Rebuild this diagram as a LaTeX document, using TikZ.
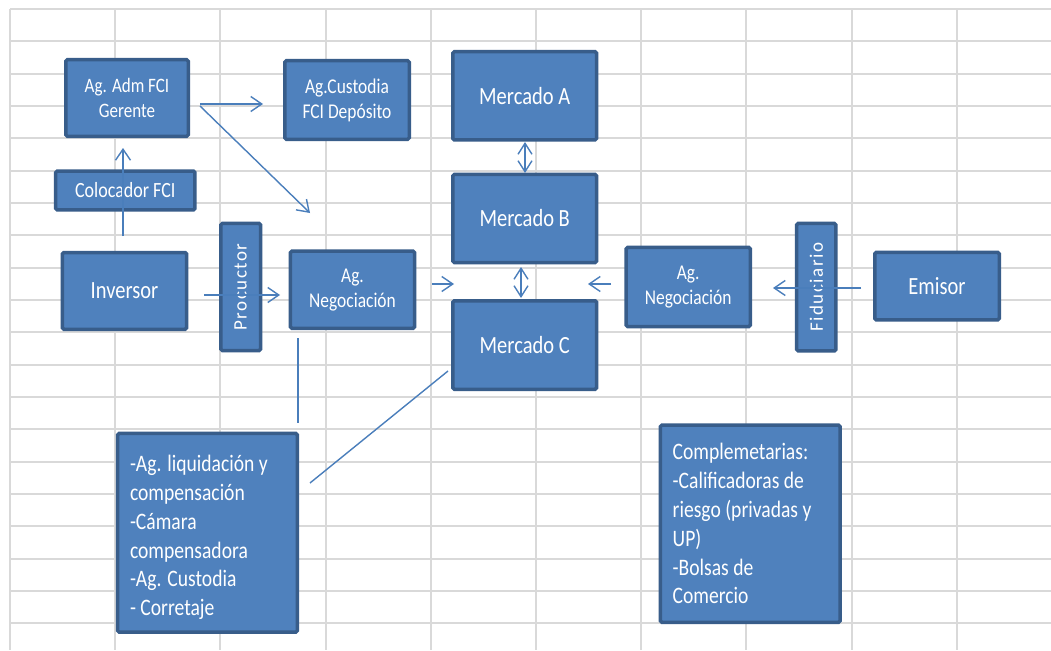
\documentclass[tikz,border=0pt]{standalone}
\usepackage{fontspec}
\setmainfont{Carlito}[FakeStretch=0.83]
\newfontfamily\vfont{Carlito}[LetterSpace=8]
\usetikzlibrary{arrows.meta}
\definecolor{gridc}{HTML}{D9D9D9}
\definecolor{boxfill}{HTML}{4F81BD}
\definecolor{boxline}{HTML}{385D8A}
\definecolor{linkblue}{HTML}{4A7EBB}
\begin{document}
\begin{tikzpicture}[x=1pt,y=-1pt,
  box/.style={draw=boxline, fill=boxfill, line width=3.5pt, rounded corners=1.5pt, inner sep=0pt, text=white, align=center},
  link/.style={draw=linkblue, line width=1.4pt},
  arr/.style={link, -{Straight Barb[length=11pt,width=15pt]}},
  darr/.style={link, {Straight Barb[length=11pt,width=14pt]}-{Straight Barb[length=11pt,width=14pt]}},
  bigtxt/.style={font=\fontsize{24.7}{30}\selectfont},
  midtxt/.style={font=\fontsize{21}{25}\selectfont},
  listtxt/.style={font=\fontsize{23.6}{28.8}\selectfont, align=flush left, text width=155pt, inner xsep=12.3pt},
  verttxt/.style={font=\vfont\fontsize{19}{24}\selectfont, rotate=90},
  gridline/.style={draw=gridc, line width=2pt}
]
\useasboundingbox (0,0) rectangle (1051,650);
\fill[white] (0,0) rectangle (1051,650);
% spreadsheet grid
\foreach \i in {0,...,9} \draw[gridline] ({10+105.2*\i},9) -- ({10+105.2*\i},650);
\foreach \j in {0,...,19} \draw[gridline] (10,{9+32.33*\j}) -- (1051,{9+32.33*\j});

% boxes
\node[box, font=\fontsize{20.5}{25}\selectfont, minimum width=122.5pt, minimum height=76.5pt] (gerente) at (127,98) {Ag. Adm FCI\\Gerente};
\node[box, midtxt, minimum width=124.5pt, minimum height=78.5pt] (custodia) at (347,100) {Ag.Custodia\\FCI Depósito};
\node[box, font=\fontsize{21.7}{26}\selectfont, minimum width=139.2pt, minimum height=38.9pt] (colocador) at (125.3,190.5) {Colocador FCI};
\node[box, bigtxt, minimum width=124.1pt, minimum height=76.8pt] (inversor) at (124.5,290.9) {Inversor};
\node[box, verttxt, minimum width=127.1pt, minimum height=39.8pt] (procuctor) at (240.7,287) {Procuctor};
\node[box, midtxt, minimum width=124.1pt, minimum height=77.2pt] (negL) at (352.5,289.7) {Ag.\\Negociación};
\node[box, bigtxt, minimum width=143.8pt, minimum height=88.2pt] (mercA) at (524.7,95.8) {Mercado A};
\node[box, bigtxt, minimum width=143.8pt, minimum height=88.1pt] (mercB) at (524.7,218.5) {Mercado B};
\node[box, bigtxt, minimum width=143.8pt, minimum height=88.5pt] (mercC) at (524.7,345) {Mercado C};
\node[box, midtxt, minimum width=124.1pt, minimum height=79.1pt] (negR) at (688.2,287) {Ag.\\Negociación};
\node[box, verttxt, minimum width=127.5pt, minimum height=39.2pt] (fiduciario) at (816.3,287.2) {Fiduciario};
\node[box, bigtxt, minimum width=124.5pt, minimum height=67.5pt] (emisor) at (937,286.2) {Emisor};
\node[box, listtxt, minimum width=179.5pt, minimum height=198.8pt] (liq) at (207.5,532.8) {\rule{0pt}{26pt}-Ag. liquidación y\\compensación\\-Cámara\\compensadora\\-Ag. Custodia\\- Corretaje};
\node[box, listtxt, minimum width=179.5pt, minimum height=197.2pt] (compl) at (750.2,523.7) {Complemetarias:\\-Calificadoras de\\riesgo (privadas y\\UP)\\-Bolsas de\\Comercio};

% connector end points
\coordinate (gerE) at (200,104);
\coordinate (custW) at (263,104);
\coordinate (gerSE) at (200,106);
\coordinate (negLN) at (310,213);
\coordinate (colS) at (123,236);
\coordinate (gerS) at (123,148);
\coordinate (invE) at (204,295);
\coordinate (negLW) at (280,295);
\coordinate (negLE) at (432,284);
\coordinate (mercW) at (454,284);
\coordinate (negRW) at (611,284);
\coordinate (mercE) at (588,284);
\coordinate (emiW) at (861,288);
\coordinate (negRE) at (773,288);
\coordinate (mAS) at (525,142);
\coordinate (mBN) at (525,173);
\coordinate (mBS) at (521,267);
\coordinate (mCN) at (521,298);
\coordinate (negLS) at (298,338);
\coordinate (liqN) at (298,423);
\coordinate (mCW) at (448,371);
\coordinate (liqE) at (310,483);

% connectors
\draw[arr] (gerE) -- (custW);
\draw[arr] (gerSE) -- (negLN);
\draw[arr] (colS) -- (gerS);
\draw[arr] (invE) -- (negLW);
\draw[arr] (negLE) -- (mercW);
\draw[arr] (negRW) -- (mercE);
\draw[arr] (emiW) -- (negRE);
\draw[darr] (mAS) -- (mBN);
\draw[darr] (mBS) -- (mCN);
\draw[link] (negLS) -- (liqN);
\draw[link] (mCW) -- (liqE);
\end{tikzpicture}
\end{document}
